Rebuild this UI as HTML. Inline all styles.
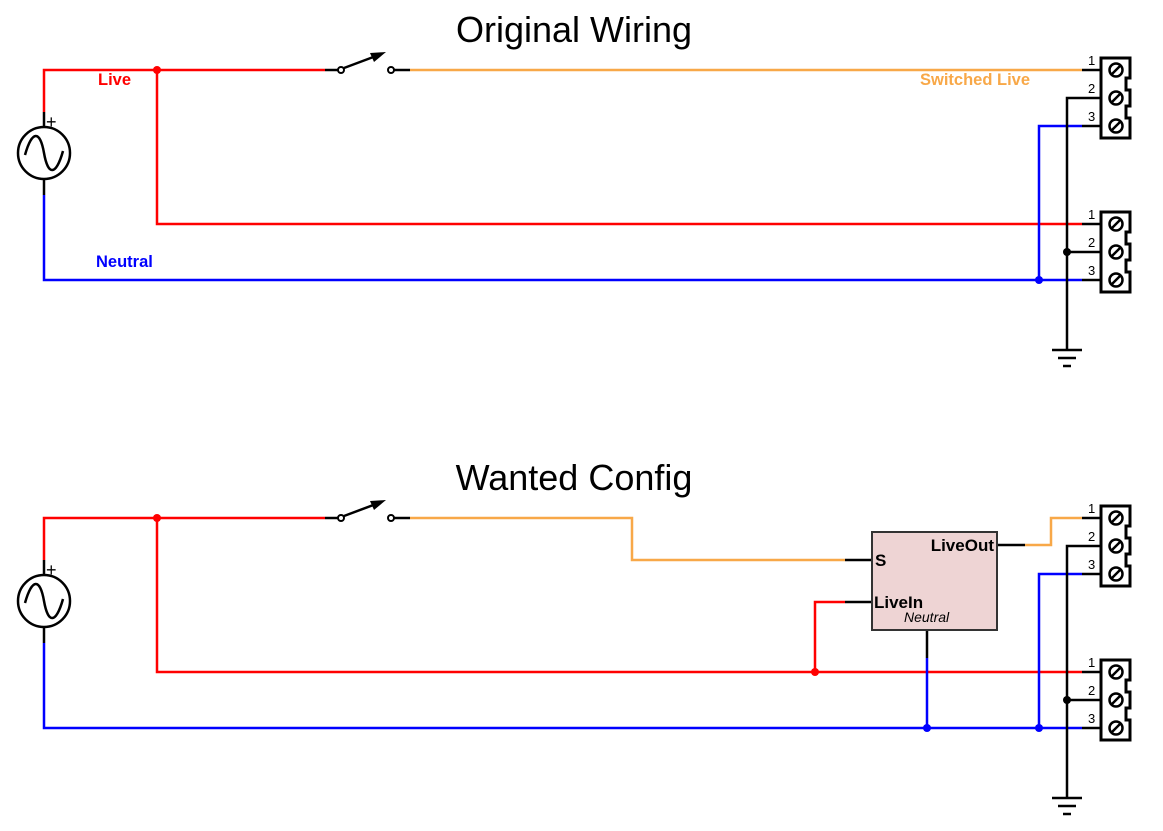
<!DOCTYPE html>
<html><head><meta charset="utf-8"><style>body{margin:0;background:#fff}svg{display:block}</style></head><body>
<svg width="1163" height="831" xmlns="http://www.w3.org/2000/svg" font-family="Liberation Sans, sans-serif">
<defs>
<g id="conn">
<path d="M1101,-12 H1130 V8 H1126 V20 H1130 V36 H1126 V48 H1130 V68 H1101 Z" fill="#fff" stroke="#000" stroke-width="3"/>
<g fill="none" stroke="#000" stroke-width="2.5">
<circle cx="1116" cy="0" r="6.5"/><line x1="1112" y1="4" x2="1120" y2="-4"/>
<circle cx="1116" cy="28" r="6.5"/><line x1="1112" y1="32" x2="1120" y2="24"/>
<circle cx="1116" cy="56" r="6.5"/><line x1="1112" y1="60" x2="1120" y2="52"/>
</g>
<g stroke="#000" stroke-width="2.5"><line x1="1082" y1="0" x2="1101" y2="0"/><line x1="1082" y1="28" x2="1101" y2="28"/><line x1="1082" y1="56" x2="1101" y2="56"/></g>
<g font-size="13" fill="#000"><text x="1088" y="-5">1</text><text x="1088" y="23">2</text><text x="1088" y="51">3</text></g>
</g>
<g id="src">
<line x1="44" y1="112" x2="44" y2="128" stroke="#000" stroke-width="2.5"/>
<circle cx="44" cy="153" r="26" fill="none" stroke="#000" stroke-width="2.5"/>
<path d="M25,155 C32,130 40,130 44,153 C48,176 56,176 63,151" fill="none" stroke="#000" stroke-width="2.5"/>
<line x1="44" y1="179" x2="44" y2="195" stroke="#000" stroke-width="2.5"/>
<text x="46" y="128" font-size="18">+</text>
<line x1="325" y1="70" x2="338" y2="70" stroke="#000" stroke-width="2.5"/>
<circle cx="341" cy="70" r="3" fill="#fff" stroke="#000" stroke-width="2"/>
<line x1="344" y1="68" x2="376" y2="56" stroke="#000" stroke-width="2.5"/>
<polygon points="386,52 370,53 374,62" fill="#000"/>
<circle cx="391" cy="70" r="3" fill="#fff" stroke="#000" stroke-width="2"/>
<line x1="394" y1="70" x2="410" y2="70" stroke="#000" stroke-width="2.5"/>
<line x1="1052" y1="350" x2="1082" y2="350" stroke="#000" stroke-width="2.5"/>
<line x1="1058" y1="358" x2="1076" y2="358" stroke="#000" stroke-width="2.5"/>
<line x1="1063" y1="366" x2="1071" y2="366" stroke="#000" stroke-width="2.5"/>
</g>
</defs>
<g fill="none" stroke-width="2.5">
<text x="574" y="42" font-size="36" text-anchor="middle" fill="#000" stroke="none">Original Wiring</text>
<path d="M44,112 V70 H325" stroke="#f00"/>
<path d="M157,70 V224 H1082" stroke="#f00"/>
<path d="M44,195 V280 H1082" stroke="#00f"/>
<path d="M410,70 H1082" stroke="#f8a848"/>
<path d="M1082,126 H1039 V280" stroke="#00f"/>
<path d="M1067,350 V98 H1082 M1067,252 H1082" stroke="#000"/>
</g>
<use href="#src"/>
<use href="#conn" transform="translate(0,70)"/>
<use href="#conn" transform="translate(0,224)"/>
<circle cx="157" cy="70" r="4" fill="#f00"/>
<circle cx="1067" cy="252" r="4" fill="#000"/>
<circle cx="1039" cy="280" r="4" fill="#00f"/>
<g font-weight="bold" font-size="16.5">
<text x="98" y="85" fill="#f00">Live</text>
<text x="96" y="267" fill="#00f">Neutral</text>
<text x="920" y="85" fill="#f8a848">Switched Live</text>
</g>
<text x="574" y="490" font-size="36" text-anchor="middle" fill="#000">Wanted Config</text>
<g fill="none" stroke-width="2.5">
<path d="M44,560 V518 H325" stroke="#f00"/>
<path d="M157,518 V672 H1082" stroke="#f00"/>
<path d="M815,672 V602 H845" stroke="#f00"/>
<path d="M44,643 V728 H1082" stroke="#00f"/>
<path d="M410,518 H632 V560 H845" stroke="#f8a848"/>
<path d="M1025,545 H1051 V518 H1082" stroke="#f8a848"/>
<path d="M1082,574 H1039 V728" stroke="#00f"/>
<path d="M927,658 V728" stroke="#00f"/>
<path d="M1067,798 V546 H1082 M1067,700 H1082" stroke="#000"/>
<path d="M845,560 H872 M845,602 H872 M997,545 H1025 M927,630 V658" stroke="#000"/>
</g>
<use href="#src" transform="translate(0,448)"/>
<use href="#conn" transform="translate(0,518)"/>
<use href="#conn" transform="translate(0,672)"/>
<circle cx="157" cy="518" r="4" fill="#f00"/>
<circle cx="815" cy="672" r="4" fill="#f00"/>
<circle cx="927" cy="728" r="4" fill="#00f"/>
<circle cx="1067" cy="700" r="4" fill="#000"/>
<circle cx="1039" cy="728" r="4" fill="#00f"/>
<rect x="872" y="532" width="125" height="98" fill="#eed4d4" stroke="#333" stroke-width="2"/>
<g font-weight="bold" font-size="17" fill="#000">
<text x="875" y="566">S</text>
<text x="874" y="608">LiveIn</text>
<text x="994" y="551" text-anchor="end">LiveOut</text>
</g>
<text x="904" y="622" font-size="14" font-style="italic" fill="#000">Neutral</text>
</svg>
</body></html>
